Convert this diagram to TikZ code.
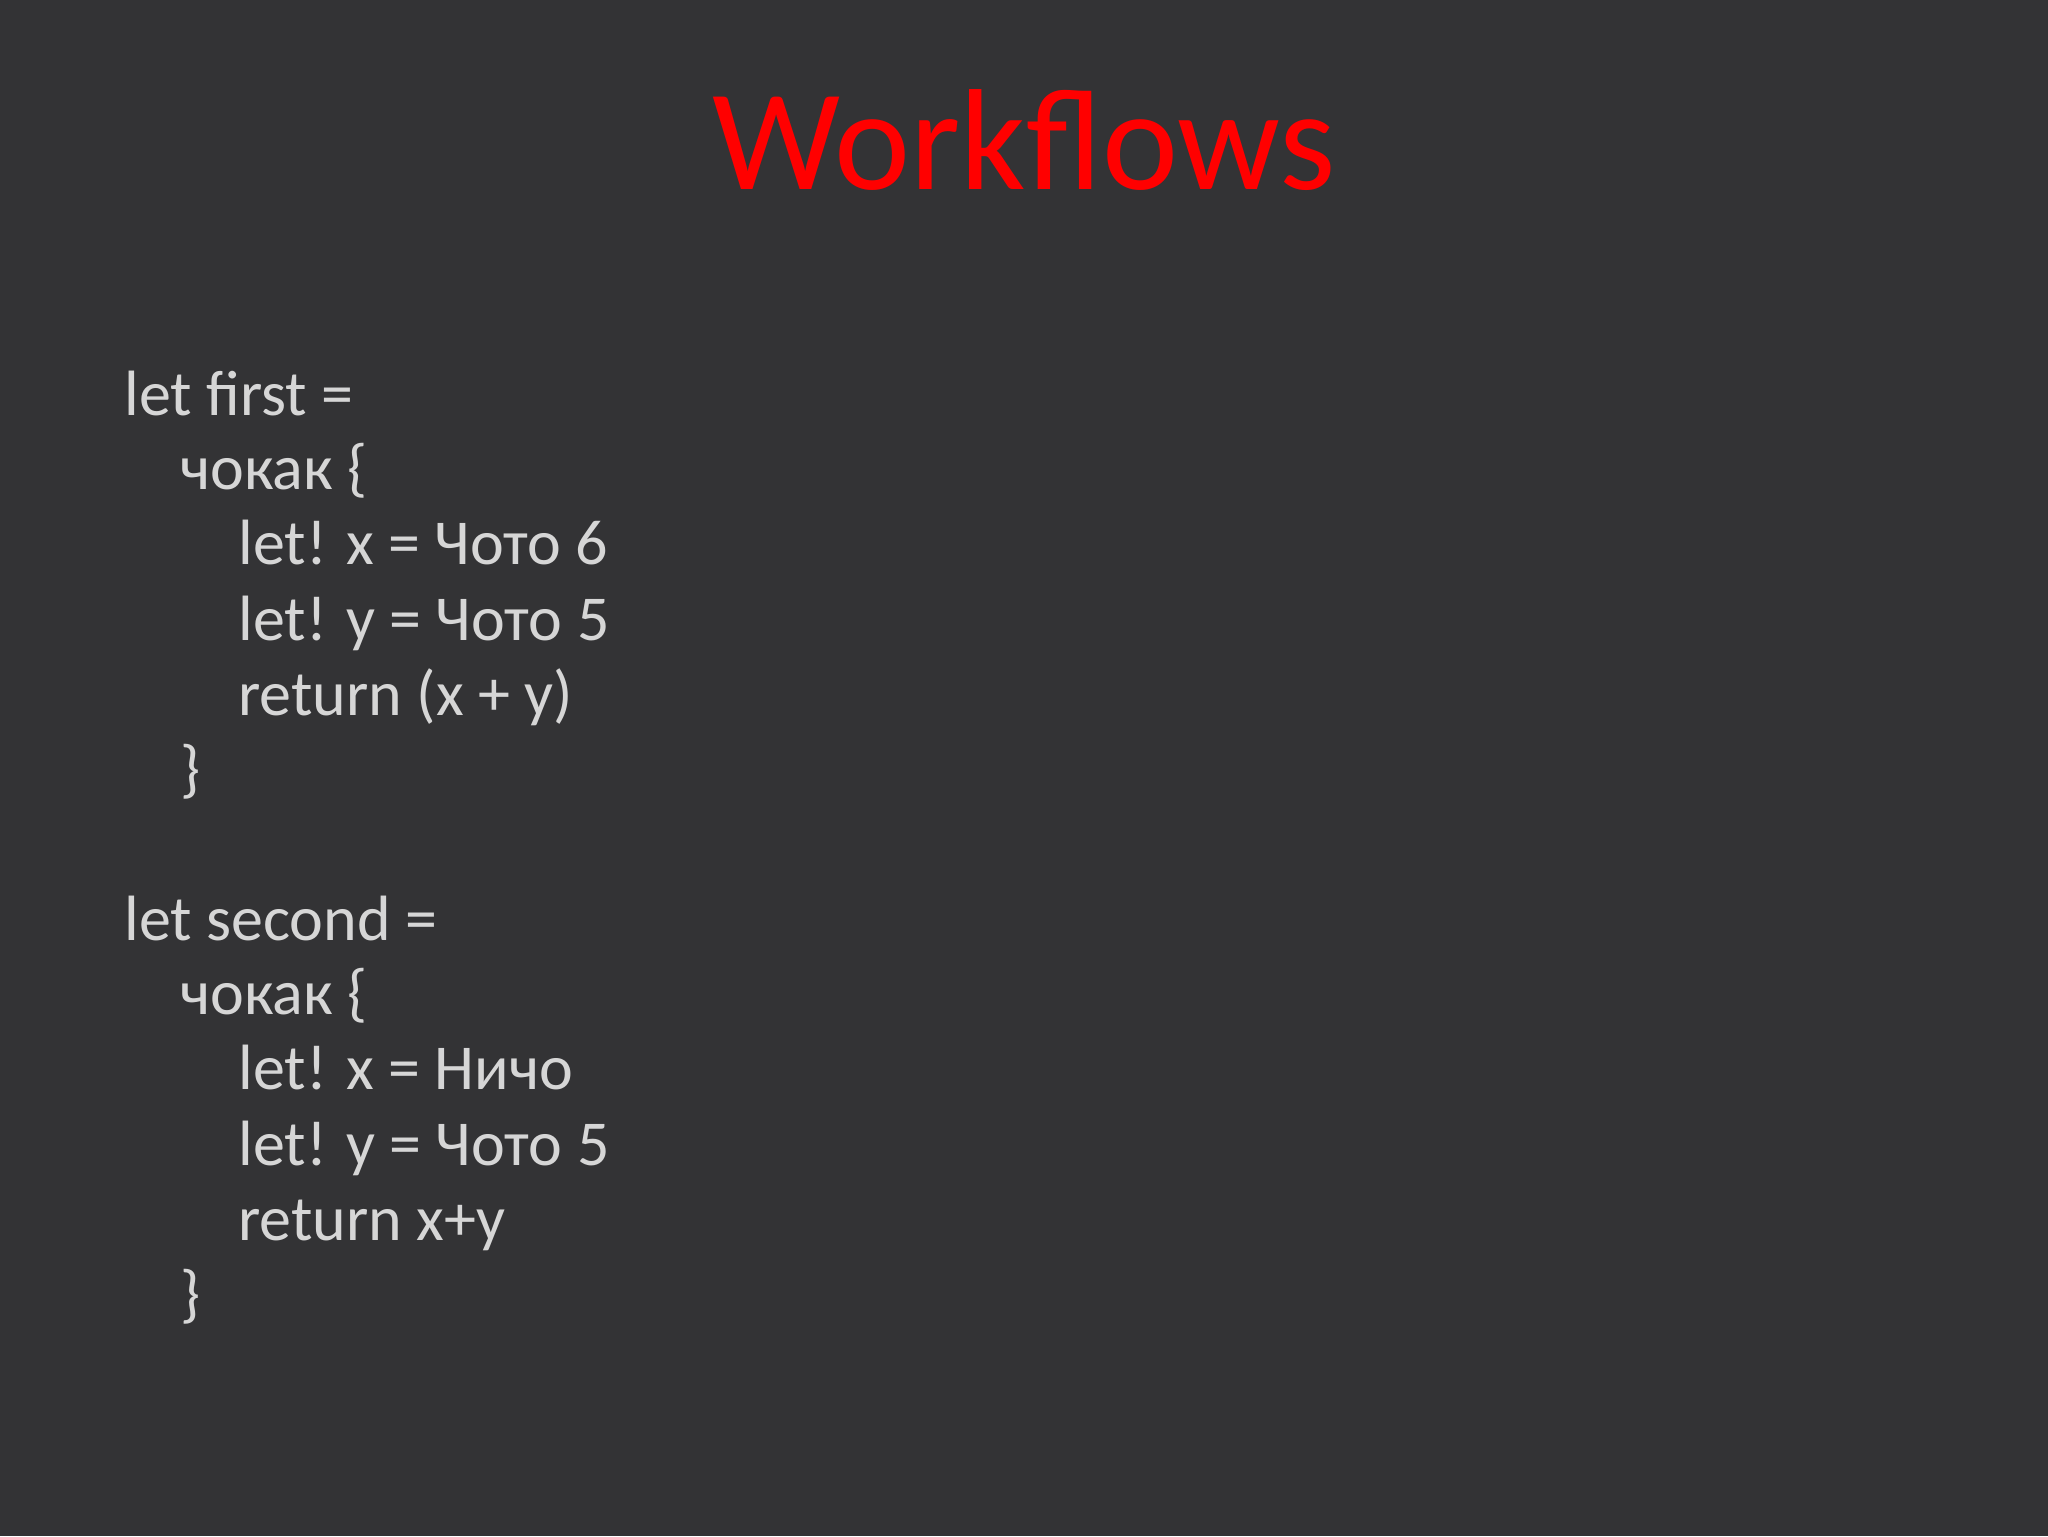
\documentclass[tikz,border=0pt]{standalone}
\usepackage{fontspec}
\setmainfont{Carlito}
\definecolor{bg}{HTML}{333335}
\definecolor{code}{HTML}{D6D6D6}
\definecolor{ttl}{HTML}{FF0000}
\begin{document}
\begin{tikzpicture}[x=1pt,y=1pt,
  ln/.style={anchor=base west,inner sep=0pt,text=code,font=\fontsize{32}{38}\selectfont}]
\fill[bg] (0,0) rectangle (1024,-768);
\useasboundingbox (0,0) rectangle (1024,-768);
\node[anchor=base,inner sep=0pt,text=ttl,font=\fontsize{72}{80}\selectfont] (title) at (512,-94.7) {Workflows};
\node[ln] (a1) at (62,-207.7) {let first =};
\node[ln] (a2) at (90,-244.9) {чокак \{};
\node[ln] (a3) at (119,-282.1) {let! x = Чото 6};
\node[ln] (a4) at (119,-320.0) {let! y = Чото 5};
\node[ln] (a5) at (119,-357.8) {return (x + y)};
\node[ln] (a6) at (90,-395.1) {\}};
\node[ln] (b1) at (62,-470.2) {let second =};
\node[ln] (b2) at (90,-507.4) {чокак \{};
\node[ln] (b3) at (119,-544.6) {let! x = Ничо};
\node[ln] (b4) at (119,-582.5) {let! y = Чото 5};
\node[ln] (b5) at (119,-620.3) {return x+y};
\node[ln] (b6) at (90,-657.6) {\}};
\end{tikzpicture}
\end{document}
